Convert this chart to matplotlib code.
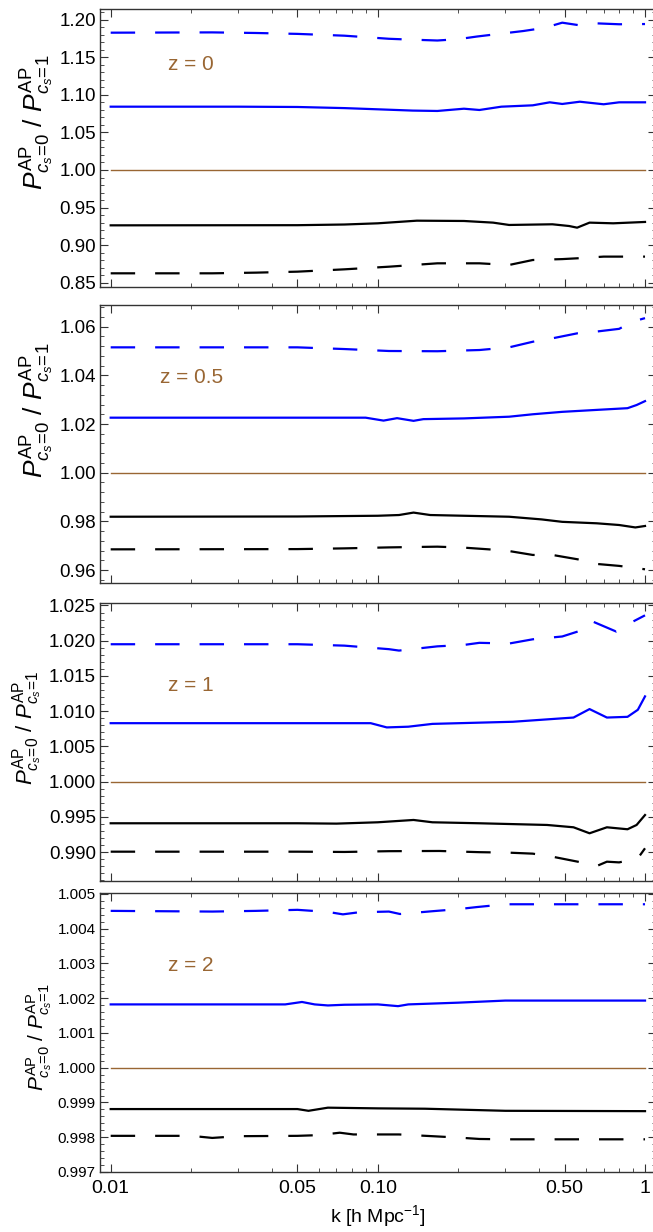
import numpy as np
import matplotlib
matplotlib.use("Agg")
import matplotlib.pyplot as plt
from matplotlib.ticker import MultipleLocator, FixedLocator, FixedFormatter, NullFormatter, FormatStrFormatter

plt.rcParams['font.family'] = ['Liberation Sans', 'DejaVu Sans']
plt.rcParams['mathtext.fontset'] = 'custom'
plt.rcParams['mathtext.rm'] = 'Liberation Sans'
plt.rcParams['mathtext.it'] = 'Liberation Sans:italic'
plt.rcParams['mathtext.bf'] = 'Liberation Sans:bold'

# ---------------- data ----------------
# Panel z = 0
k1_bd = [0.01, 0.024, 0.035, 0.05, 0.075, 0.11, 0.13, 0.167, 0.2, 0.235, 0.3, 0.35, 0.42, 0.49, 0.56, 0.66, 0.8, 1.0]
v1_bd = [1.1826, 1.1830, 1.1822, 1.1810, 1.1786, 1.1745, 1.1735, 1.1722, 1.1740, 1.1775, 1.1820, 1.1848, 1.1890, 1.1959, 1.1928, 1.1950, 1.1938, 1.1941]
k1_bs = [0.01, 0.03, 0.05, 0.075, 0.1, 0.135, 0.167, 0.21, 0.24, 0.29, 0.38, 0.44, 0.49, 0.57, 0.70, 0.8, 1.0]
v1_bs = [1.0842, 1.0842, 1.0838, 1.0823, 1.0807, 1.0790, 1.0785, 1.0815, 1.0798, 1.0842, 1.0860, 1.0900, 1.0878, 1.0908, 1.0874, 1.0900, 1.0900]
k1_ks = [0.01, 0.05, 0.075, 0.1, 0.14, 0.21, 0.27, 0.31, 0.45, 0.52, 0.557, 0.62, 0.76, 1.0]
v1_ks = [0.9264, 0.9266, 0.9275, 0.9291, 0.9326, 0.9322, 0.9300, 0.9269, 0.9278, 0.9255, 0.9233, 0.9300, 0.9291, 0.9309]
k1_kd = [0.01, 0.024, 0.035, 0.05, 0.075, 0.11, 0.167, 0.24, 0.31, 0.38, 0.49, 0.56, 0.7, 1.0]
v1_kd = [0.8626, 0.8626, 0.8635, 0.8648, 0.8679, 0.8714, 0.8759, 0.8759, 0.8737, 0.8803, 0.8815, 0.8826, 0.8848, 0.8848]

# Panel z = 0.5
k2_bd = [0.01, 0.05, 0.075, 0.11, 0.167, 0.24, 0.31, 0.38, 0.45, 0.56, 0.66, 0.8, 0.9, 1.0]
v2_bd = [1.0515, 1.0515, 1.0508, 1.0500, 1.0499, 1.0504, 1.0515, 1.0538, 1.0552, 1.0573, 1.0580, 1.0591, 1.0621, 1.0635]
k2_bs = [0.01, 0.05, 0.09, 0.105, 0.118, 0.136, 0.148, 0.21, 0.31, 0.38, 0.49, 0.66, 0.86, 0.93, 1.0]
v2_bs = [1.0226, 1.0226, 1.0226, 1.0214, 1.0224, 1.0213, 1.0220, 1.0223, 1.0230, 1.0240, 1.0250, 1.0258, 1.0265, 1.0278, 1.0294]
k2_ks = [0.01, 0.05, 0.1, 0.12, 0.136, 0.157, 0.21, 0.31, 0.41, 0.49, 0.66, 0.8, 0.92, 1.0]
v2_ks = [0.9819, 0.9820, 0.9823, 0.9826, 0.9836, 0.9826, 0.9823, 0.9819, 0.9808, 0.9798, 0.9792, 0.9785, 0.9775, 0.9781]
k2_kd = [0.01, 0.05, 0.075, 0.11, 0.167, 0.21, 0.26, 0.31, 0.38, 0.45, 0.56, 0.66, 0.8, 1.0]
v2_kd = [0.9685, 0.9686, 0.9689, 0.9693, 0.9696, 0.9692, 0.9685, 0.9678, 0.9662, 0.9662, 0.9644, 0.9625, 0.9617, 0.9603]

# Panel z = 1
k3_bd = [0.01, 0.05, 0.075, 0.11, 0.12, 0.167, 0.21, 0.24, 0.31, 0.38, 0.49, 0.56, 0.63, 0.78, 0.9, 1.0]
v3_bd = [1.0195, 1.0195, 1.0193, 1.0188, 1.0186, 1.0192, 1.0194, 1.0197, 1.0196, 1.0202, 1.0206, 1.0213, 1.0228, 1.0213, 1.0227, 1.0236]
k3_bs = [0.01, 0.05, 0.094, 0.108, 0.13, 0.16, 0.32, 0.54, 0.62, 0.72, 0.86, 0.94, 1.0]
v3_bs = [1.0083, 1.0083, 1.0083, 1.0077, 1.0078, 1.0082, 1.0085, 1.0091, 1.0103, 1.0091, 1.0092, 1.0102, 1.0121]
k3_ks = [0.01, 0.05, 0.07, 0.1, 0.136, 0.16, 0.24, 0.43, 0.54, 0.62, 0.72, 0.86, 0.93, 1.0]
v3_ks = [0.99410, 0.99410, 0.99405, 0.99424, 0.99457, 0.99424, 0.99410, 0.99386, 0.99353, 0.99268, 0.99353, 0.99325, 0.99386, 0.99527]
k3_kd = [0.01, 0.05, 0.075, 0.11, 0.17, 0.24, 0.31, 0.38, 0.45, 0.56, 0.66, 0.72, 0.8, 0.94, 1.0]
v3_kd = [0.99007, 0.99007, 0.99003, 0.99014, 0.99017, 0.99000, 0.98993, 0.98979, 0.98936, 0.98865, 0.98804, 0.98865, 0.98855, 0.98913, 0.99055]

# Panel z = 2
k4_bd = [0.01, 0.024, 0.035, 0.05, 0.065, 0.074, 0.085, 0.11, 0.121, 0.16, 0.2, 0.235, 0.30, 1.0]
v4_bd = [1.00451, 1.00449, 1.00451, 1.00454, 1.00448, 1.00441, 1.00447, 1.00449, 1.00442, 1.00450, 1.00456, 1.00462, 1.00470, 1.00470]
k4_bs = [0.01, 0.045, 0.052, 0.058, 0.065, 0.075, 0.1, 0.119, 0.13, 0.2, 0.30, 1.0]
v4_bs = [1.00182, 1.00182, 1.00189, 1.00182, 1.00179, 1.00181, 1.00182, 1.00177, 1.00182, 1.00187, 1.00193, 1.00193]
k4_ks = [0.01, 0.05, 0.055, 0.065, 0.1, 0.15, 0.3, 1.0]
v4_ks = [0.99881, 0.99881, 0.99876, 0.99885, 0.99883, 0.99882, 0.99876, 0.99875]
k4_kd = [0.01, 0.02, 0.024, 0.03, 0.05, 0.06, 0.072, 0.081, 0.12, 0.16, 0.2, 0.24, 0.3, 1.0]
v4_kd = [0.99804, 0.99804, 0.99798, 0.99803, 0.99804, 0.99806, 0.99813, 0.99808, 0.99808, 0.99803, 0.99799, 0.99795, 0.99794, 0.99794]

z_labels = ["0", "0.5", "1", "2"]
x_ticks = [0.01, 0.05, 0.1, 0.5, 1.0]
x_ticklabels = ["0.01", "0.05", "0.10", "0.50", "1"]

panels = [
    dict(bd=(k1_bd, v1_bd), bs=(k1_bs, v1_bs), ks=(k1_ks, v1_ks), kd=(k1_kd, v1_kd),
         ylim=(0.8444, 1.2141), major=0.05, minor=0.01, fmt="%.2f", ztext=1.14,
         top=9, bot=287, tsize=13.5, lab_y=122, lab_x=37, lab_fs=19),
    dict(bd=(k2_bd, v2_bd), bs=(k2_bs, v2_bs), ks=(k2_ks, v2_ks), kd=(k2_kd, v2_kd),
         ylim=(0.95467, 1.0689), major=0.02, minor=0.004, fmt="%.2f", ztext=1.0393,
         top=305, bot=583, tsize=13.5, lab_y=410, lab_x=37, lab_fs=19),
    dict(bd=(k3_bd, v3_bd), bs=(k3_bs, v3_bs), ks=(k3_ks, v3_ks), kd=(k3_kd, v3_kd),
         ylim=(0.98591, 1.02535), major=0.005, minor=0.001, fmt="%.3f", ztext=1.0137,
         top=603, bot=881, tsize=13.5, lab_y=728, lab_x=28, lab_fs=16),
    dict(bd=(k4_bd, v4_bd), bs=(k4_bs, v4_bs), ks=(k4_ks, v4_ks), kd=(k4_kd, v4_kd),
         ylim=(0.997, 1.005024), major=0.001, minor=0.0002, fmt="%.3f", ztext=1.00295,
         top=893, bot=1172, tsize=11, lab_y=1037, lab_x=39, lab_fs=15),
]

W, H = 653, 1232
fig = plt.figure(figsize=(W / 100, H / 100), dpi=100)

left_px, right_px = 100, 655.7
blue = '#0000FF'
brown = '#996633'
lw = 1.6
dash = (11.0, 9.0)
frame_c = '#333333'

ylabel = r'$P^{\mathrm{AP}}_{c_s\!=\!0}\ /\ P^{\mathrm{AP}}_{c_s\!=\!1}$'

for i, p in enumerate(panels):
    ax = fig.add_axes([left_px / W, 1 - p['bot'] / H, (right_px - left_px) / W, (p['bot'] - p['top']) / H])
    ax.set_xscale('log')
    ax.set_xlim(10 ** -2.04, 10 ** 0.04)
    ax.set_ylim(*p['ylim'])
    ax.plot([0.01, 1.0], [1.0, 1.0], color=brown, lw=1.0, zorder=1)
    ax.plot(*p['bd'], color=blue, lw=lw, dashes=dash)
    ax.plot(*p['bs'], color=blue, lw=lw)
    ax.plot(*p['ks'], color='black', lw=lw)
    ax.plot(*p['kd'], color='black', lw=lw, dashes=dash)

    ax.text(0.02, p['ztext'], 'z = ' + z_labels[i], color=brown, fontsize=15,
            ha='center', va='center')

    ax.yaxis.set_major_locator(MultipleLocator(p['major']))
    ax.yaxis.set_minor_locator(MultipleLocator(p['minor']))
    ax.yaxis.set_major_formatter(FormatStrFormatter(p['fmt']))
    ax.xaxis.set_major_locator(FixedLocator(x_ticks))
    minors = [m * 10.0 ** e for e in (-2, -1) for m in range(2, 10) if not (m == 5)]
    ax.xaxis.set_minor_locator(FixedLocator(minors))
    ax.xaxis.set_minor_formatter(NullFormatter())
    if i == 3:
        ax.xaxis.set_major_formatter(FixedFormatter(x_ticklabels))
        ax.set_xlabel(r'k [h Mpc$^{-1}$]', fontsize=14, labelpad=4)
    else:
        ax.xaxis.set_major_formatter(NullFormatter())

    ax.tick_params(which='both', direction='in', top=True, right=True, color='#333333')
    ax.tick_params(which='major', length=5.5, width=0.8)
    ax.tick_params(which='minor', length=3, width=0.6)
    ax.tick_params(axis='y', labelsize=p['tsize'], pad=3)
    ax.tick_params(axis='x', labelsize=14, pad=6)
    for s in ax.spines.values():
        s.set_color(frame_c)
        s.set_linewidth(1.0)

    fig.text(p['lab_x'] / W, 1 - p['lab_y'] / H, ylabel, rotation=90, ha='center', va='center',
             fontsize=p['lab_fs'])

fig.savefig('out.png', dpi=100)
